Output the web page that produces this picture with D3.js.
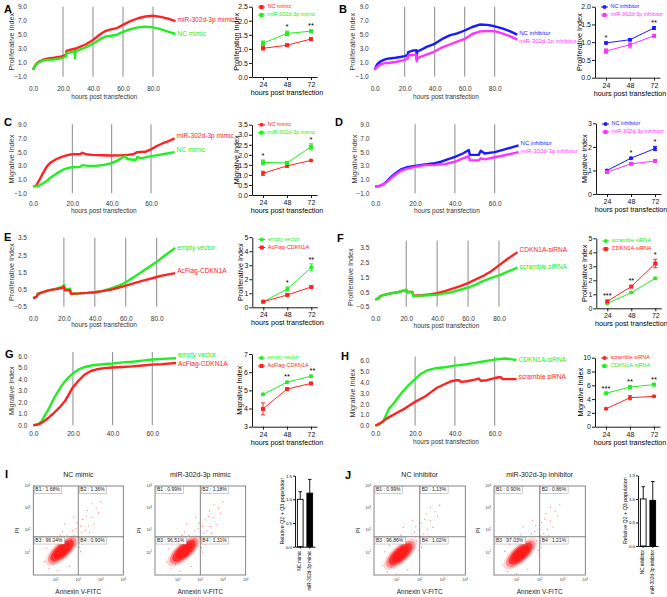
<!DOCTYPE html>
<html><head><meta charset="utf-8">
<script src="https://cdn.jsdelivr.net/npm/d3@7"></script>
<style>body{margin:0;background:#fff}svg{display:block}text{font-family:"Liberation Sans",Arial,Helvetica,sans-serif}</style>
</head><body><svg id="c" width="667" height="597"></svg>
<script>
// ---------------- DATA ----------------
// RTCA real-time curves: [hours post transfection, index]
const A_mimic302 = [[0,0],[1,0.4],[2,0.8],[4,1.15],[6,1.35],[8,1.5],[10,1.6],[14,1.7],[18,1.85],[20,1.95],[22,2.15],[22.3,2.7],[25,2.85],[27.8,3.0],[28,2.4],[28.3,3.0],[30,3.15],[35,3.6],[40,4.25],[45,5.1],[48,5.5],[52,5.75],[56,5.95],[60,6.4],[65,6.95],[70,7.35],[75,7.6],[80,7.7],[85,7.55],[90,7.3],[95,6.95]];
const A_ncMimic = [[0,0],[1,0.4],[2,0.75],[4,1.05],[6,1.25],[8,1.35],[10,1.4],[14,1.45],[18,1.6],[20,1.7],[22,1.95],[22.3,2.35],[25,2.5],[27.8,2.6],[28,1.6],[28.3,2.6],[30,2.75],[35,3.2],[40,3.7],[45,4.4],[48,4.7],[52,4.85],[56,5.0],[60,5.4],[65,5.8],[70,6.05],[75,6.15],[80,6.05],[85,5.8],[90,5.45],[95,5.1]];
const B_ncInh = [[0,0],[1,0.5],[2,0.85],[4,1.2],[6,1.4],[8,1.55],[10,1.6],[14,1.7],[18,1.85],[20,1.95],[22,2.1],[22.3,2.5],[25,2.7],[27.8,2.8],[28,1.5],[28.3,2.6],[30,2.75],[35,3.3],[40,3.7],[45,4.4],[50,4.9],[55,5.2],[60,5.6],[65,6.1],[70,6.45],[75,6.4],[80,6.2],[85,5.9],[90,5.5],[95,5.0]];
const B_inh302 = [[0,0],[1,0.3],[2,0.5],[4,0.75],[6,0.9],[8,0.95],[10,1.0],[14,1.1],[18,1.3],[20,1.4],[22,1.6],[22.3,2.0],[25,2.1],[27.8,2.15],[28,1.2],[28.3,1.6],[30,1.8],[35,2.2],[40,2.6],[45,3.2],[50,3.6],[55,4.0],[60,4.4],[65,5.1],[70,5.45],[75,5.55],[80,5.5],[85,5.2],[90,4.8],[95,4.3]];
const C_mimic302 = [[0,0],[1.5,0.1],[3,0.8],[5,1.9],[7,2.9],[9,3.5],[12,4.0],[15,4.35],[18,4.6],[20,4.7],[24,4.7],[25,4.9],[27,4.7],[30,4.6],[35,4.55],[40,4.5],[45,4.55],[48,4.6],[51,4.7],[53,5.0],[57,5.05],[60,5.4],[63,5.9],[66,6.3],[69,6.6],[72,7.0]];
const C_ncMimic = [[0,0],[3,0.1],[6,0.6],[9,1.3],[12,1.9],[15,2.4],[18,2.7],[20,2.8],[24,2.85],[25,3.1],[28,3.0],[32,3.0],[36,3.15],[40,3.4],[43,3.8],[46,4.3],[47,4.4],[48,4.0],[51,3.9],[52.5,3.9],[53,4.3],[55,4.1],[58,4.3],[62,4.5],[66,4.7],[72,5.0]];
const D_ncInh = [[0,0],[2,0.05],[4,0.3],[6,0.8],[8,1.4],[10,1.9],[13,2.5],[16,2.8],[20,3.0],[25,3.2],[30,3.4],[33,3.6],[36,3.9],[40,4.3],[44,4.8],[47,5.3],[47.5,4.6],[52,4.6],[53,5.2],[55,4.8],[60,5.0],[65,5.4],[72,6.0]];
const D_inh302 = [[0,0],[2,0.05],[4,0.3],[6,0.7],[8,1.2],[10,1.7],[13,2.3],[16,2.6],[20,2.85],[25,3.1],[30,3.15],[35,3.25],[40,3.6],[44,4.1],[47,4.4],[47.5,3.8],[52,3.8],[53,4.1],[55,3.95],[60,4.25],[65,4.55],[72,5.0]];
const E_emptyVec = [[0,0],[1,0.02],[2.5,0.1],[3,0.25],[5,0.3],[10,0.45],[15,0.55],[19,0.65],[20,0.75],[20.5,0.5],[24,0.55],[24.5,0.25],[30,0.27],[35,0.3],[40,0.34],[45,0.42],[50,0.55],[55,0.7],[60,0.92],[65,1.2],[70,1.5],[75,1.8],[80,2.1],[85,2.45],[92,2.9]];
const E_cdkn1a = [[0,0],[1,0.02],[2.5,0.1],[3,0.22],[5,0.3],[10,0.45],[15,0.52],[19,0.6],[20,0.68],[20.5,0.45],[24,0.45],[24.5,0.25],[30,0.27],[35,0.3],[40,0.34],[45,0.4],[50,0.48],[55,0.6],[60,0.72],[65,0.85],[70,0.98],[75,1.1],[80,1.22],[85,1.33],[92,1.45]];
const F_siCdkn = [[0,0],[1,0.02],[2.5,0.1],[3,0.2],[5,0.28],[10,0.4],[15,0.5],[19,0.6],[20,0.65],[20.5,0.5],[24,0.5],[24.5,0.25],[30,0.28],[35,0.33],[40,0.42],[45,0.55],[50,0.72],[55,0.9],[60,1.1],[65,1.35],[70,1.6],[75,1.9],[80,2.3],[85,2.7],[92,3.2]];
const F_scramble = [[0,0],[1,0.02],[2.5,0.1],[3,0.2],[5,0.28],[10,0.4],[15,0.5],[19,0.6],[20,0.65],[20.5,0.5],[24,0.5],[24.5,0.2],[30,0.25],[35,0.28],[40,0.32],[45,0.4],[50,0.5],[55,0.65],[60,0.8],[65,1.0],[70,1.25],[75,1.45],[80,1.62],[85,1.85],[92,2.15]];
const G_emptyVec = [[0,0],[2,0.05],[4,0.3],[6,0.9],[8,1.5],[10,2.2],[12,2.8],[15,3.6],[18,4.2],[20,4.5],[23,4.85],[26,5.05],[30,5.2],[35,5.28],[40,5.35],[45,5.45],[50,5.5],[55,5.6],[60,5.7],[65,5.75],[72,5.8]];
const G_cdkn1a = [[0,0],[3,0.1],[5,0.3],[8,0.7],[10,1.0],[13,1.5],[16,2.1],[18,2.7],[20,3.3],[23,3.9],[26,4.4],[29,4.7],[32,4.85],[36,4.95],[40,5.0],[45,5.05],[50,5.1],[55,5.18],[60,5.25],[65,5.3],[72,5.4]];
const H_siCdkn = [[0,0],[2,0.1],[4,0.4],[5,0.8],[7,1.6],[9,2.0],[11,2.5],[14,3.2],[17,3.8],[20,4.3],[23,4.8],[26,5.1],[30,5.3],[35,5.4],[40,5.55],[45,5.65],[50,5.8],[55,5.95],[60,6.1],[65,6.2],[68,6.15],[71,6.05]];
const H_scramble = [[0,0],[3,0.3],[6,0.7],[10,1.1],[15,1.6],[20,2.2],[25,2.7],[28,3.1],[31,3.5],[35,3.85],[38,4.1],[41,4.2],[42,4.2],[43,4.05],[46,4.1],[50,4.25],[52,4.35],[53,4.15],[56,4.2],[60,4.4],[63,4.5],[64,4.3],[68,4.3],[71,4.3]];

// RTCA axes
const rtcaX95 = [0,20,40,60,80];
const rtcaX72 = [0,20,40,60];
const yTicksWide = [-1,1,3,5,7,9];
const yTicksEF = [-0.5,0.5,1.5,2.5,3.5];
const yTicksGH = [0,1,2,3,4,5,6];

// Endpoint summaries (mean, SEM) at 24/48/72 h
const hoursPost = [24,48,72];
const A_ncMean=[1.02,1.13,1.35], A_ncErr=[0.05,0.04,0.02], A_mirMean=[1.2,1.55,1.63], A_mirErr=[0.08,0.08,0.03], A_stars=["","*","**"];
const B_ncMean=[0.98,1.07,1.4], B_ncErr=[0.03,0.03,0.04], B_inhMean=[0.75,0.93,1.18], B_inhErr=[0.06,0.09,0.03], B_stars=["*","","**"];
const C_ncMean=[1.08,1.45,1.72], C_ncErr=[0.1,0.07,0.03], C_mirMean=[1.62,1.6,2.4], C_mirErr=[0.12,0.06,0.15], C_stars=["*","","*"];
const D_ncMean=[1.0,1.52,1.93], D_ncErr=[0.03,0.04,0.09], D_inhMean=[0.93,1.28,1.4], D_inhErr=[0.04,0.03,0.04], D_stars=["","*","*"];
const E_evMean=[0.4,1.3,2.85], E_evErr=[0.03,0.15,0.25], E_cdMean=[0.4,0.88,1.45], E_cdErr=[0.03,0.05,0.05], E_stars=["","*","**"];
const F_scMean=[0.35,1.12,2.15], F_scErr=[0.03,0.04,0.05], F_siMean=[0.5,1.55,3.2], F_siErr=[0.06,0.08,0.3], F_stars=["***","**","*"];
const G_evMean=[4.78,5.45,5.78], G_evErr=[0.05,0.05,0.05], G_cdMean=[3.98,5.07,5.38], G_cdErr=[0.33,0.06,0.05], G_stars=["","**","**"];
const H_scMean=[2.6,4.2,4.4], H_scErr=[0.1,0.3,0.1], H_siMean=[4.85,5.75,6.1], H_siErr=[0.1,0.1,0.1], H_stars=["***","**","**"];

// Flow cytometry quadrant percentages
const I_ncQuad = ["B1 : 1.68%","B2 : 1.36%","B3 : 96.04%","B4 : 0.90%"];
const I_mirQuad = ["B1 : 0.99%","B2 : 1.18%","B3 : 96.51%","B4 : 1.31%"];
const J_ncQuad = ["B1 : 0.99%","B2 : 1.13%","B3 : 96.86%","B4 : 1.02%"];
const J_inhQuad = ["B1 : 0.90%","B2 : 0.86%","B3 : 97.03%","B4 : 1.21%"];
// main cell population: centre (log10 Annexin, log10 PI)
const I_ncCloud=[1.28,1.1], I_mirCloud=[1.28,1.08], J_ncCloud=[1.16,0.94], J_inhCloud=[1.16,0.96];
// scattered events (log10 Annexin, log10 PI)
const sparseEvents = [[1.5,1.8],[1.9,2.1],[2.2,2.5],[2.4,2.9],[2.1,2.2],[2.6,2.6],[1.7,1.6],[2.0,1.7],[2.3,2.0],[2.8,3.0],[1.2,1.8],[0.9,0.5],[0.7,0.3],[1.6,0.4],[2.2,1.4],[2.5,1.9],[3.0,3.3],[1.8,2.6],[2.7,2.3],[1.4,2.3],[2.9,2.8],[0.6,1.2],[2.05,1.25],[1.1,0.2],[2.35,2.65],[1.95,2.35],[2.15,1.9],[1.75,2.0],[2.45,2.2],[0.5,0.6],[0.8,1.5],[2.6,3.2],[1.3,1.95],[2.1,1.05],[1.85,1.35]];
const decadeTicks = [1,2,3,4];
// Relative Q2+Q3 population bars
const I_barCats=["NC mimic","miR-302d-3p mimic"], I_barVals=[1.0,1.13], I_barErr=[0.16,0.29];
const J_barCats=["NC inhibitor","miR-302d-3p inhibitor"], J_barVals=[1.0,0.97], J_barErr=[0.26,0.40];
const barTicks=[0,0.5,1.0,1.5];

// ---------------- DRAW ----------------
const svg = d3.select("#c");
svg.append("rect").attr("width",667).attr("height",597).attr("fill","#fff");
const RED="#ff2222", GREEN="#22ee22", BLUE="#1a1aff", MAG="#ff33ff";

function letter(t,x,y){svg.append("text").attr("x",x).attr("y",y).attr("dominant-baseline","middle").attr("font-size",11).attr("font-weight","bold").text(t);}

function rtca(o){
  const g=svg.append("g");
  const x=d3.scaleLinear().domain([0,o.xmax]).range([o.x0,o.x0+o.xmax*o.kx]);
  const y=d3.scaleLinear().domain(o.ydom).range([o.yb,o.yt]);
  g.selectAll("line.v").data(o.vlines).join("line").attr("class","v")
    .attr("x1",d=>x(d)).attr("x2",d=>x(d)).attr("y1",o.vtop).attr("y2",o.yb)
    .attr("stroke","#8a8a8a").attr("stroke-width",1);
  const ya=g.append("g").attr("transform",`translate(${o.x0-3},0)`)
    .call(d3.axisLeft(y).tickValues(o.yticks).tickSize(0).tickFormat(d3.format(".1f")));
  ya.select(".domain").remove();
  ya.selectAll("text").attr("font-size",6.5).attr("fill","#333").attr("font-family",null);
  const xa=g.append("g").attr("transform",`translate(0,${o.xlabY-3})`)
    .call(d3.axisBottom(x).tickValues(o.xticks).tickSize(0).tickFormat(d3.format(".1f")));
  xa.select(".domain").remove();
  xa.selectAll("text").attr("font-size",6.5).attr("fill","#333").attr("font-family",null);
  if(o.title) g.append("text").attr("x",(o.x0+x(o.xmax))/2).attr("y",o.titleY).attr("text-anchor","middle").attr("dominant-baseline","middle").attr("font-size",6.5).attr("fill","#333").text("hours post transfection");
  g.append("text").attr("transform",`translate(${o.ylabX},${(o.yb+o.yt)/2}) rotate(-90)`).attr("text-anchor","middle").attr("dominant-baseline","middle").attr("font-size",7.2).attr("fill","#333").text(o.ylabel);
  const line=d3.line().x(d=>x(d[0])).y(d=>y(d[1]));
  o.series.forEach(s=>{
    g.append("path").datum(s.data).attr("d",line).attr("fill","none").attr("stroke",s.color).attr("stroke-width",2.4).attr("stroke-linejoin","round");
    g.append("text").attr("x",x(o.xmax)+2).attr("y",s.ly).attr("dominant-baseline","middle").attr("font-size",o.lfs||6.6).attr("fill",s.color).text(s.label);
  });
}

function prism(o){
  const g=svg.append("g");
  const x=d3.scaleLinear().domain([13,78]).range([o.ax,o.ax+65]);
  const y=d3.scaleLinear().domain(o.ydom).range([o.yb,o.yt]);
  const ya=g.append("g").attr("transform",`translate(${o.ax},0)`)
    .call(d3.axisLeft(y).tickValues(o.yticks).tickSize(3).tickSizeOuter(0).tickFormat(o.fmt));
  const xa=g.append("g").attr("transform",`translate(0,${o.yb})`)
    .call(d3.axisBottom(x).tickValues(hoursPost).tickSize(3).tickSizeOuter(0));
  [ya,xa].forEach(a=>{a.selectAll("path,line").attr("stroke","#000").attr("stroke-width",0.9);a.selectAll("text").attr("font-size",7).attr("font-family",null).attr("fill","#111");});
  ya.selectAll("text").attr("x",-4);
  xa.selectAll("text").attr("y",5);
  g.append("text").attr("x",o.ax+35).attr("y",o.yb+16).attr("text-anchor","middle").attr("dominant-baseline","middle").attr("font-size",7.2).text("hours post transfection");
  g.append("text").attr("transform",`translate(${o.ylabX},${(o.yb+o.yt)/2}) rotate(-90)`).attr("text-anchor","middle").attr("dominant-baseline","middle").attr("font-size",7.2).text(o.ylabel);
  const line=d3.line().x((d,i)=>x(hoursPost[i])).y(d=>y(d));
  o.series.forEach((s,k)=>{
    g.append("path").datum(s.mean).attr("d",line).attr("fill","none").attr("stroke",s.color).attr("stroke-width",1);
    s.mean.forEach((m,i)=>{
      const cx=x(hoursPost[i]);
      g.append("line").attr("x1",cx).attr("x2",cx).attr("y1",y(m-s.err[i])).attr("y2",y(m+s.err[i])).attr("stroke",s.color).attr("stroke-width",1);
      [m-s.err[i],m+s.err[i]].forEach(v=>g.append("line").attr("x1",cx-2).attr("x2",cx+2).attr("y1",y(v)).attr("y2",y(v)).attr("stroke",s.color).attr("stroke-width",1));
      if(s.shape==="sq") g.append("rect").attr("x",cx-2).attr("y",y(m)-2).attr("width",4).attr("height",4).attr("fill",s.color);
      else g.append("circle").attr("cx",cx).attr("cy",y(m)).attr("r",2).attr("fill",s.color);
    });
    const ly=o.legY+k*8;
    g.append("line").attr("x1",o.ax+6).attr("x2",o.ax+13).attr("y1",ly).attr("y2",ly).attr("stroke",s.color).attr("stroke-width",1);
    if(s.shape==="sq") g.append("rect").attr("x",o.ax+7.5).attr("y",ly-2).attr("width",4).attr("height",4).attr("fill",s.color);
    else g.append("circle").attr("cx",o.ax+9.5).attr("cy",ly).attr("r",2).attr("fill",s.color);
    g.append("text").attr("x",o.ax+15.5).attr("y",ly).attr("dominant-baseline","middle").attr("font-size",5.5).attr("fill",s.color).text(s.label);
  });
  o.stars.forEach((st,i)=>{
    if(!st) return;
    const top=d3.max(o.series,s=>s.mean[i]+s.err[i]);
    g.append("text").attr("x",x(hoursPost[i])+(o.starDx&&i===2?o.starDx:0)).attr("y",y(top)-2).attr("text-anchor","middle").attr("font-size",7.5).text(st);
  });
}

function flow(o){
  const g=svg.append("g");
  const x=d3.scaleLinear().domain([0,4]).range([o.l,o.r]);
  const y=d3.scaleLinear().domain([0,4]).range([o.b,o.t]);
  g.append("text").attr("x",(o.l+o.r)/2).attr("y",o.t-11).attr("text-anchor","middle").attr("dominant-baseline","middle").attr("font-size",7).attr("fill","#222").text(o.title);
  const cx=x(o.cloud[0]), cy=y(o.cloud[1]), k=(o.r-o.l)/4;
  g.selectAll("circle.s").data(sparseEvents).join("circle").attr("class","s").attr("cx",d=>x(d[0]+o.cloud[0]-1.28)).attr("cy",d=>y(d[1]+o.cloud[1]-1.1)).attr("r",0.55).attr("fill","#ff3030").attr("opacity",0.8);
  [[1.3,0.18],[1.1,0.4],[0.9,0.8],[0.65,1]].forEach(([s,op])=>{
    g.append("ellipse").attr("cx",cx).attr("cy",cy).attr("rx",0.72*k*s).attr("ry",0.3*k*s)
      .attr("transform",`rotate(-42,${cx},${cy})`).attr("fill","#ff1a1a").attr("opacity",op);
  });
  g.append("rect").attr("x",o.l).attr("y",o.t).attr("width",o.r-o.l).attr("height",o.b-o.t).attr("fill","none").attr("stroke","#666").attr("stroke-width",0.8);
  const qx=x(2), qy=y(1.72);
  g.append("line").attr("x1",qx).attr("x2",qx).attr("y1",o.t).attr("y2",o.b).attr("stroke","#666").attr("stroke-width",0.8);
  g.append("line").attr("x1",o.l).attr("x2",o.r).attr("y1",qy).attr("y2",qy).attr("stroke","#666").attr("stroke-width",0.8);
  const pos=[[o.l+1,o.t+4],[qx+1,o.t+4],[o.l+1,qy+4],[qx+1,qy+4]];
  o.quads.forEach((q,i)=>{
    const t=g.append("text").attr("x",pos[i][0]+1).attr("y",pos[i][1]).attr("dominant-baseline","middle").attr("font-size",5).attr("fill","#222").text(q);
    const w=t.node().getComputedTextLength();
    g.insert("rect",()=>t.node()).attr("x",pos[i][0]).attr("y",pos[i][1]-3.3).attr("width",w+3).attr("height",6.6).attr("fill","#fff").attr("stroke","#999").attr("stroke-width",0.5);
  });
  decadeTicks.forEach(d=>{
    const t1=g.append("text").attr("x",o.l-3).attr("y",y(d)).attr("text-anchor","end").attr("dominant-baseline","middle").attr("font-size",3.6).attr("fill","#333").text("10");
    t1.append("tspan").attr("dy",-1.3).attr("font-size",2.6).text(d);
    const t2=g.append("text").attr("x",x(d)).attr("y",o.b+6).attr("text-anchor","middle").attr("font-size",3.6).attr("fill","#333").text("10");
    t2.append("tspan").attr("dy",-1.3).attr("font-size",2.6).text(d);
  });
  g.append("text").attr("transform",`translate(${o.l-16},${(o.t+o.b)/2}) rotate(-90)`).attr("text-anchor","middle").attr("dominant-baseline","middle").attr("font-size",6).attr("fill","#222").text("PI");
  g.append("text").attr("x",(o.l+o.r)/2).attr("y",o.b+17).attr("text-anchor","middle").attr("dominant-baseline","middle").attr("font-size",6.5).attr("fill","#222").text("Annexin V-FITC");
}

function bars(o){
  const g=svg.append("g");
  const x=d3.scaleBand().domain(o.cats).range([o.ax,o.ax+20]).paddingInner(0.4).paddingOuter(0.25);
  const y=d3.scaleLinear().domain([0,1.5]).range([o.yb,o.yt]);
  o.vals.forEach((v,i)=>{
    const c=o.cats[i], xc=x(c)+x.bandwidth()/2;
    g.append("line").attr("x1",xc).attr("x2",xc).attr("y1",y(v)).attr("y2",y(v+o.err[i])).attr("stroke","#000").attr("stroke-width",0.9);
    g.append("line").attr("x1",xc-1.8).attr("x2",xc+1.8).attr("y1",y(v+o.err[i])).attr("y2",y(v+o.err[i])).attr("stroke","#000").attr("stroke-width",0.9);
    g.append("rect").attr("x",x(c)).attr("y",y(v)).attr("width",x.bandwidth()).attr("height",y(0)-y(v)).attr("fill",i?"#000":"#fff").attr("stroke","#000").attr("stroke-width",0.9);
    g.append("text").attr("transform",`translate(${xc},${o.yb+4}) rotate(-90)`).attr("text-anchor","end").attr("dominant-baseline","middle").attr("font-size",4.6).text(c);
  });
  const ya=g.append("g").attr("transform",`translate(${o.ax},0)`)
    .call(d3.axisLeft(y).tickValues(barTicks).tickSize(2).tickSizeOuter(0).tickFormat(d3.format(".1f")));
  ya.selectAll("path,line").attr("stroke","#000").attr("stroke-width",0.9);
  ya.selectAll("text").attr("font-size",4.4).attr("font-family",null).attr("x",-3);
  const xa=g.append("g").attr("transform",`translate(0,${o.yb})`).call(d3.axisBottom(x).tickSize(2).tickSizeOuter(0).tickFormat(""));
  xa.selectAll("path,line").attr("stroke","#000").attr("stroke-width",0.9);
  g.append("text").attr("transform",`translate(${o.ax-12},${(o.yb+o.yt)/2}) rotate(-90)`).attr("text-anchor","middle").attr("dominant-baseline","middle").attr("font-size",5.3).text("Relative Q2 + Q3 population");
}

letter("A",4,10); letter("B",339,10); letter("C",4,123); letter("D",335,123);
letter("E",4,238); letter("F",337,239); letter("G",5,355); letter("H",341,357);
letter("I",5,475); letter("J",345,476);

rtca({x0:33,kx:1.5,xmax:95,ydom:[-1,9],yb:76.7,yt:6.7,vtop:6.7,vlines:[20,40,60,80],yticks:yTicksWide,xticks:rtcaX95,xlabY:86,title:true,titleY:97,ylabel:"Proliferative Index",ylabX:12,
  series:[{data:A_mimic302,color:RED,label:"miR-302d-3p mimic",ly:20},{data:A_ncMimic,color:GREEN,label:"NC mimic",ly:34}]});
rtca({x0:374.7,kx:1.5,xmax:95,lfs:6,ydom:[-1,9],yb:76.7,yt:6.7,vtop:6.7,vlines:[20,40,60,80],yticks:yTicksWide,xticks:rtcaX95,xlabY:86,title:true,titleY:97,ylabel:"Proliferative Index",ylabX:353,
  series:[{data:B_ncInh,color:BLUE,label:"NC inhibitor",ly:33},{data:B_inh302,color:MAG,label:"miR-302d-3p inhibitor",ly:41}]});
rtca({x0:33,kx:1.967,xmax:72,ydom:[-1,9],yb:193.3,yt:124.7,vtop:124.2,vlines:[20,40,60],yticks:yTicksWide,xticks:rtcaX72,xlabY:201.7,title:true,titleY:211.7,ylabel:"Migrative Index",ylabX:12,
  series:[{data:C_mimic302,color:RED,label:"miR-302d-3p mimic",ly:136.7},{data:C_ncMimic,color:GREEN,label:"NC mimic",ly:150.7}]});
rtca({x0:375.3,kx:1.99,xmax:72,lfs:6,ydom:[-1,9],yb:193.3,yt:124.7,vtop:124.2,vlines:[20,40,60],yticks:yTicksWide,xticks:rtcaX72,xlabY:201.7,title:true,titleY:211.7,ylabel:"Migrative Index",ylabX:354.7,
  series:[{data:D_ncInh,color:BLUE,label:"NC inhibitor",ly:143.3},{data:D_inh302,color:MAG,label:"miR-302d-3p inhibitor",ly:151.7}]});
rtca({x0:33,kx:1.546,xmax:92,ydom:[-0.5,3.5],yb:306.7,yt:237.7,vtop:237.7,vlines:[20,40,60,80],yticks:yTicksEF,xticks:rtcaX95,xlabY:316,title:true,titleY:325,ylabel:"Proliferative Index",ylabX:12,
  series:[{data:E_emptyVec,color:GREEN,label:"empty vector",ly:248.3},{data:E_cdkn1a,color:RED,label:"AcFlag-CDKN1A",ly:271.7}]});
rtca({x0:375.3,kx:1.546,xmax:92,ydom:[-0.5,3.5],yb:306.7,yt:247.7,vtop:240.7,vlines:[20,40,60,80],yticks:yTicksEF,xticks:rtcaX95,xlabY:316,title:true,titleY:326.7,ylabel:"Proliferative Index",ylabX:351,
  series:[{data:F_siCdkn,color:RED,label:"CDKN1A-siRNA",ly:250},{data:F_scramble,color:GREEN,label:"scramble siRNA",ly:267.7}]});
rtca({x0:33.3,kx:1.983,xmax:72,ydom:[0,6],yb:425.3,yt:356,vtop:352,vlines:[20,40,60],yticks:yTicksGH,xticks:rtcaX72,xlabY:431.7,title:false,ylabel:"Migrative Index",ylabX:12,
  series:[{data:G_emptyVec,color:GREEN,label:"empty vector",ly:355},{data:G_cdkn1a,color:RED,label:"AcFlag-CDKN1A",ly:364}]});
rtca({x0:375.3,kx:1.99,xmax:71,ydom:[0,6],yb:425.7,yt:360.7,vtop:356.5,vlines:[20,40,60],yticks:yTicksGH,xticks:rtcaX72,xlabY:431.7,title:true,titleY:442.7,ylabel:"Migrative Index",ylabX:353,
  series:[{data:H_siCdkn,color:GREEN,label:"CDKN1A-siRNA",ly:360.7},{data:H_scramble,color:RED,label:"scramble siRNA",ly:377.3}]});

const f1=d3.format(".1f"), f0=d3.format("d");
prism({ax:252,ydom:[0,2.5],yb:77,yt:6.7,yticks:[0,0.5,1,1.5,2,2.5],fmt:f1,ylabel:"Proliferation Index",ylabX:237,legY:7,stars:A_stars,
  series:[{mean:A_ncMean,err:A_ncErr,color:RED,label:"NC mimic",shape:"sq"},{mean:A_mirMean,err:A_mirErr,color:GREEN,label:"miR-302d-3p mimic",shape:"sq"}]});
prism({ax:595,ydom:[0,2.0],yb:77.7,yt:6.7,yticks:[0,0.5,1,1.5,2],fmt:f1,ylabel:"Proliferative Index",ylabX:580,legY:7,stars:B_stars,
  series:[{mean:B_ncMean,err:B_ncErr,color:BLUE,label:"NC inhibitor",shape:"ci"},{mean:B_inhMean,err:B_inhErr,color:MAG,label:"miR-302d-3p inhibitor",shape:"sq"}]});
prism({ax:252,ydom:[0,3.5],yb:195,yt:124.7,yticks:[0,0.5,1,1.5,2,2.5,3,3.5],fmt:f1,ylabel:"Migrative Index",ylabX:237,legY:124.7,stars:C_stars,
  series:[{mean:C_ncMean,err:C_ncErr,color:RED,label:"NC mimic",shape:"ci"},{mean:C_mirMean,err:C_mirErr,color:GREEN,label:"miR-302d-3p mimic",shape:"sq"}]});
prism({ax:596,ydom:[0,3],yb:194,yt:123.3,yticks:[0,1,2,3],fmt:f0,ylabel:"Migrative Index",ylabX:584.7,legY:124,stars:D_stars,
  series:[{mean:D_ncMean,err:D_ncErr,color:BLUE,label:"NC inhibitor",shape:"ci"},{mean:D_inhMean,err:D_inhErr,color:MAG,label:"miR-302d-3p inhibitor",shape:"sq"}]});
prism({ax:252.3,ydom:[0,5],yb:307.3,yt:237.2,yticks:[0,1,2,3,4,5],fmt:f0,ylabel:"Proliferative Index",ylabX:240.7,legY:239.5,stars:E_stars,
  series:[{mean:E_evMean,err:E_evErr,color:GREEN,label:"empty vector",shape:"ci"},{mean:E_cdMean,err:E_cdErr,color:RED,label:"AcFlag-CDKN1A",shape:"sq"}]});
prism({ax:596.3,ydom:[0,5],yb:308.3,yt:238.3,yticks:[0,1,2,3,4,5],fmt:f0,ylabel:"Proliferative Index",ylabX:584.7,legY:241,stars:F_stars,
  series:[{mean:F_scMean,err:F_scErr,color:GREEN,label:"scramble siRNA",shape:"ci"},{mean:F_siMean,err:F_siErr,color:RED,label:"CDKN1A-siRNA",shape:"sq"}]});
prism({ax:252,ydom:[3,7],yb:426.7,yt:354,yticks:[3,4,5,6,7],fmt:f0,ylabel:"Migrative Index",ylabX:240,legY:358,stars:G_stars,starDx:1.5,
  series:[{mean:G_evMean,err:G_evErr,color:GREEN,label:"empty vector",shape:"ci"},{mean:G_cdMean,err:G_cdErr,color:RED,label:"AcFlag-CDKN1A",shape:"sq"}]});
prism({ax:595,ydom:[0,10],yb:426.7,yt:357.7,yticks:[0,2,4,6,8,10],fmt:f0,ylabel:"Migrative Index",ylabX:581,legY:358,stars:H_stars,
  series:[{mean:H_scMean,err:H_scErr,color:RED,label:"scramble siRNA",shape:"ci"},{mean:H_siMean,err:H_siErr,color:GREEN,label:"CDKN1A-siRNA",shape:"sq"}]});

flow({l:33.3,r:123.3,t:486,b:575,title:"NC mimic",quads:I_ncQuad,cloud:I_ncCloud});
flow({l:155,r:245.7,t:486,b:575,title:"miR-302d-3p mimic",quads:I_mirQuad,cloud:I_mirCloud});
flow({l:374,r:465.3,t:486,b:575,title:"NC inhibitor",quads:J_ncQuad,cloud:J_ncCloud});
flow({l:494,r:585.3,t:486,b:575,title:"miR-302d-3p inhibitor",quads:J_inhQuad,cloud:J_inhCloud});
bars({ax:295,yb:546.7,yt:475.6,cats:I_barCats,vals:I_barVals,err:I_barErr});
bars({ax:638,yb:546,yt:475.4,cats:J_barCats,vals:J_barVals,err:J_barErr});
</script></body></html>
